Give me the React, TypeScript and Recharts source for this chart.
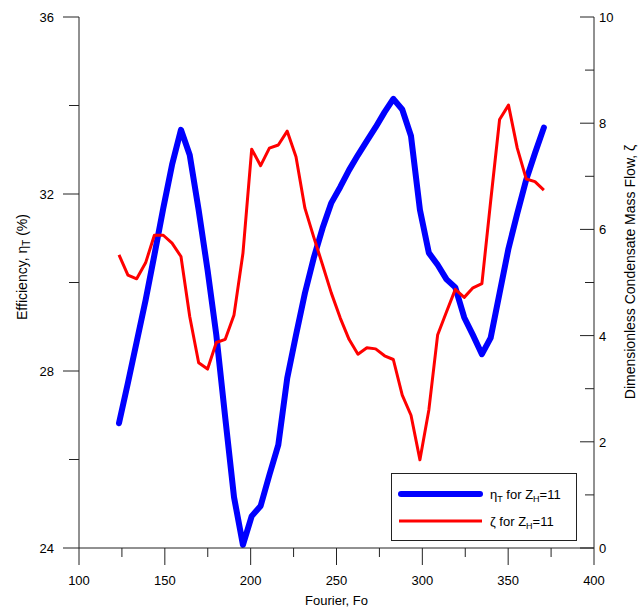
import { LineChart, Line, XAxis, YAxis, Legend } from "recharts";

// Fourier number samples
const fo = [
  123.3, 128.5, 133.6, 138.8, 143.9, 149.1, 154.2, 159.4, 164.5, 169.7,
  174.9, 180.0, 185.2, 190.3, 195.5, 200.6, 205.8, 210.9, 216.1, 221.3,
  226.4, 231.6, 236.7, 241.9, 247.0, 252.2, 257.3, 262.5, 267.7, 272.8,
  278.0, 283.1, 288.3, 293.4, 298.6, 303.8, 308.9, 314.1, 319.2, 324.4,
  329.5, 334.7, 339.8, 345.0, 350.2, 355.3, 360.5, 365.6, 370.8,
];

// efficiency eta_T (%), left axis
const eta = [
  26.82, 27.73, 28.66, 29.6, 30.62, 31.68, 32.66, 33.45, 32.88, 31.64,
  30.28, 28.81, 26.94, 25.15, 24.07, 24.72, 24.95, 25.65, 26.33, 27.84,
  28.81, 29.76, 30.55, 31.23, 31.8, 32.16, 32.54, 32.88, 33.2, 33.51,
  33.85, 34.15, 33.91, 33.31, 31.64, 30.67, 30.4, 30.07, 29.89, 29.21,
  28.81, 28.38, 28.75, 29.76, 30.77, 31.56, 32.32, 32.92, 33.5,
];

// dimensionless condensate mass flow zeta, right axis
const zeta = [
  5.52, 5.14, 5.07, 5.37, 5.89, 5.89, 5.74, 5.49, 4.36, 3.49,
  3.37, 3.87, 3.93, 4.39, 5.55, 7.51, 7.2, 7.53, 7.59, 7.85,
  7.37, 6.4, 5.86, 5.33, 4.8, 4.33, 3.93, 3.65, 3.77, 3.75,
  3.62, 3.55, 2.88, 2.5, 1.66, 2.6, 4.01, 4.45, 4.87, 4.72,
  4.9, 4.98, 6.53, 8.07, 8.34, 7.53, 6.95, 6.9, 6.74,
];

const xTicks = [100, 125, 150, 175, 200, 225, 250, 275, 300, 325, 350, 375, 400];
const xLabels = [100, 150, 200, 250, 300, 350, 400];
const leftTicks = [24, 26, 28, 30, 32, 34, 36];
const leftLabels = [24, 28, 32, 36];
const rightTicks = [0, 1, 2, 3, 4, 5, 6, 7, 8, 9, 10];
const rightLabels = [0, 2, 4, 6, 8, 10];

const data = fo.map((x, i) => ({ fo: x, eta: eta[i], zeta: zeta[i] }));

const FONT = '"Liberation Sans", Arial, sans-serif';
const AXIS = "#222";

const XTick = ({ x, y, payload }: any) => {
  const major = xLabels.includes(payload.value);
  return (
    <g>
      <line x1={x} x2={x} y1={y} y2={y + (major ? 17 : 9)} stroke={AXIS} />
      {major && (
        <text x={x} y={y + 37} textAnchor="middle" fontSize={13} fill="#000">
          {payload.value}
        </text>
      )}
    </g>
  );
};

const LeftTick = ({ x, y, payload }: any) => {
  const major = leftLabels.includes(payload.value);
  return (
    <g>
      <line x1={x - (major ? 16 : 10)} x2={x} y1={y} y2={y} stroke={AXIS} />
      {major && (
        <text x={x - 25} y={y + 5} textAnchor="end" fontSize={13} fill="#000">
          {payload.value}
        </text>
      )}
    </g>
  );
};

// ticks on the right axis point into the plot
const RightTick = ({ x, y, payload }: any) => {
  const major = rightLabels.includes(payload.value);
  return (
    <g>
      <line x1={x - (major ? 14 : 9)} x2={x} y1={y} y2={y} stroke={AXIS} />
      {major && (
        <text x={x + 5} y={y + 5} textAnchor="start" fontSize={13} fill="#000">
          {payload.value}
        </text>
      )}
    </g>
  );
};

// vertical axis titles, rotated about their centre
const LeftTitle = () => {
  const cx = 27;
  const cy = 267;
  return (
    <text x={cx} y={cy} transform={`rotate(-90, ${cx}, ${cy})`} textAnchor="middle" fontSize={14} fill="#000">
      Efficiency, η<tspan fontSize={10} dy={3}>T</tspan>
      <tspan dy={-3}> (%)</tspan>
    </text>
  );
};

const RightTitle = () => {
  const cx = 635;
  const cy = 272;
  return (
    <text x={cx} y={cy} transform={`rotate(-90, ${cx}, ${cy})`} textAnchor="middle" fontSize={14} fill="#000">
      Dimensionless Condensate Mass Flow,  ζ
    </text>
  );
};

const BottomTitle = ({ viewBox }: any) => (
  <text x={viewBox.x + viewBox.width / 2} y={viewBox.y + 57} textAnchor="middle" fontSize={13} fill="#000">
    Fourier, Fo
  </text>
);

const LegendBox = () => (
  <svg width={186} height={68} style={{ display: "block", fontFamily: FONT }}>
    <rect x={0.5} y={0.5} width={185} height={67} fill="#fff" stroke={AXIS} />
    <line x1={10} x2={89} y1={21} y2={21} stroke="#0000ff" strokeWidth={6} strokeLinecap="round" />
    <line x1={8} x2={91} y1={48} y2={48} stroke="#ff0000" strokeWidth={3} />
    <text x={99} y={26} fontSize={13} fill="#000">
      η<tspan fontSize={9} dy={3}>T</tspan>
      <tspan dy={-3}> for Z</tspan>
      <tspan fontSize={9} dy={3}>H</tspan>
      <tspan dy={-3}>=11</tspan>
    </text>
    <text x={99} y={53} fontSize={13} fill="#000">
      ζ for Z<tspan fontSize={9} dy={3}>H</tspan>
      <tspan dy={-3}>=11</tspan>
    </text>
  </svg>
);

export default function App() {
  return (
    <div style={{ position: "absolute", left: 0, top: 0, fontFamily: FONT }}>
      <LineChart width={640} height={610} data={data} margin={{ top: 17, right: 0, bottom: 0, left: 0 }}>
        <XAxis
          dataKey="fo"
          type="number"
          domain={[100, 400]}
          ticks={xTicks}
          interval={0}
          height={62}
          tickSize={0}
          tickMargin={0}
          tickLine={false}
          axisLine={{ stroke: AXIS }}
          tick={<XTick />}
          label={<BottomTitle />}
        />
        <YAxis
          yAxisId="left"
          type="number"
          domain={[24, 36]}
          ticks={leftTicks}
          interval={0}
          width={79}
          tickSize={0}
          tickMargin={0}
          tickLine={false}
          axisLine={{ stroke: AXIS }}
          tick={<LeftTick />}
          label={<LeftTitle />}
        />
        <YAxis
          yAxisId="right"
          orientation="right"
          type="number"
          domain={[0, 10]}
          ticks={rightTicks}
          interval={0}
          width={46}
          tickSize={0}
          tickMargin={0}
          tickLine={false}
          axisLine={{ stroke: AXIS }}
          tick={<RightTick />}
          label={<RightTitle />}
        />
        <Legend
          layout="vertical"
          align="center"
          verticalAlign="middle"
          content={() => <LegendBox />}
          wrapperStyle={{ left: 391, top: 473, width: 186, height: 68 }}
        />
        <Line
          yAxisId="left"
          dataKey="eta"
          type="linear"
          stroke="#0000ff"
          strokeWidth={6}
          strokeLinecap="round"
          strokeLinejoin="round"
          dot={false}
          activeDot={false}
          isAnimationActive={false}
        />
        <Line
          yAxisId="right"
          dataKey="zeta"
          type="linear"
          stroke="#ff0000"
          strokeWidth={3}
          strokeLinejoin="round"
          dot={false}
          activeDot={false}
          isAnimationActive={false}
        />
      </LineChart>
    </div>
  );
}
